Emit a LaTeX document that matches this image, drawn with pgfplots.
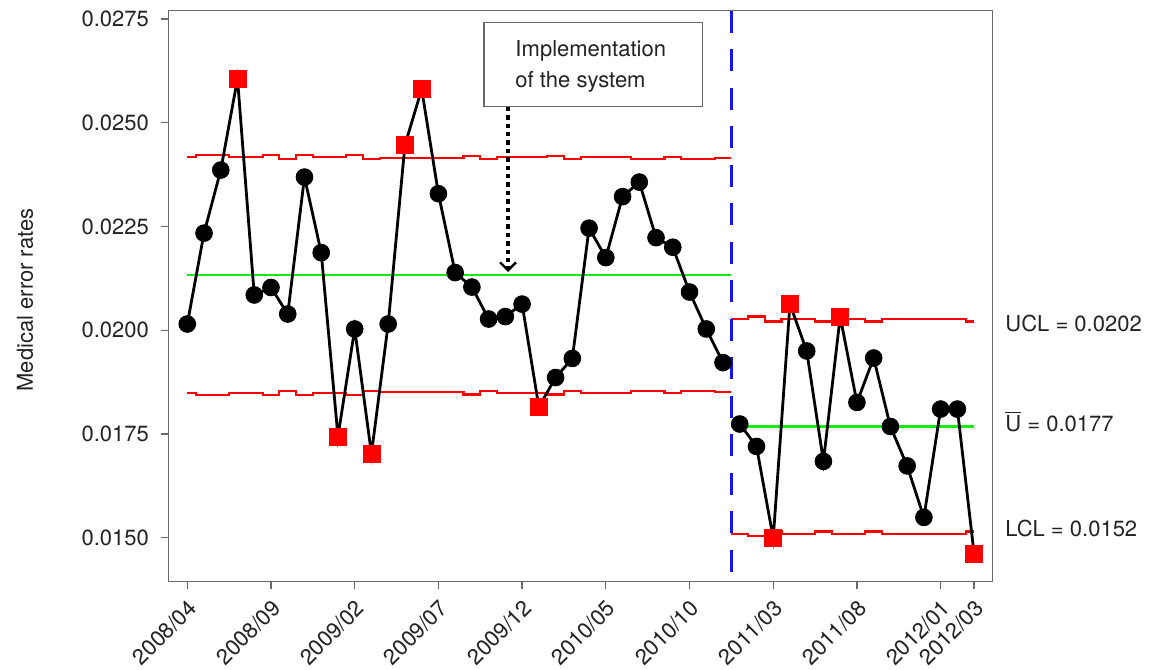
\documentclass[border=0pt]{standalone}
\usepackage{fontspec}
\setmainfont{TeX Gyre Heros}
\usepackage{pgfplots}
\pgfplotsset{compat=1.18}
\usetikzlibrary{arrows.meta}
\definecolor{uclred}{RGB}{255,0,0}
\definecolor{clgreen}{RGB}{20,235,20}
\definecolor{framegray}{RGB}{105,105,105}
\definecolor{txt}{RGB}{35,35,35}
\definecolor{sepblue}{RGB}{20,20,240}
\begin{document}
\fontsize{11}{13}\selectfont
\begin{tikzpicture}
\path[use as bounding box] (-84.15pt,-44.15pt) rectangle (492.35pt,290.85pt);
\begin{axis}[
  at={(0,0)}, anchor=south west,
  width=412.2pt, height=285.5pt, scale only axis,
  xmin=-1.135, xmax=48.11, ymin=0.01394, ymax=0.0277,
  axis line style={framegray, line width=0.65pt},
  tick style={framegray, line width=0.65pt},
  tick align=outside, major tick length=3.85pt,
  xtick pos=left, ytick pos=left,
  ytick={0.015,0.0175,0.02,0.0225,0.025,0.0275},
  yticklabels={0.0150,0.0175,0.0200,0.0225,0.0250,0.0275},
  scaled y ticks=false,
  xtick={0,5,10,15,20,25,30,35,40,45,47},
  xticklabels={2008/04,2008/09,2009/02,2009/07,2009/12,2010/05,2010/10,2011/03,2011/08,2012/01,2012/03},
  xticklabel style={rotate=45, anchor=north east, inner sep=0pt, xshift=-3.2pt, yshift=-2.8pt},
  yticklabel style={xshift=-2pt},
  ticklabel style={font=\fontsize{11}{13}\selectfont, text=txt},
  clip=false,
  ylabel={Medical error rates},
  ylabel style={at={(axis description cs:-0.1738,0.4933)}, anchor=center, font=\fontsize{11}{13}\selectfont, text=txt},
]
% control limits phase 1
\addplot[uclred, line width=1.1pt, const plot] coordinates {
(0,0.024169) (0.5,0.024224) (2.5,0.024169) (4.5,0.024224) (5.5,0.024121) (6.5,0.024224) (7.5,0.024169) (9.5,0.024224) (10.5,0.024121) (11.5,0.024152) (16.5,0.024208) (17.5,0.024121) (18.5,0.024169) (21.5,0.024208) (22.5,0.024121) (23.5,0.024169) (26.5,0.024121) (28.5,0.024169) (29.5,0.024121) (31.5,0.024152) (32.5,0.024152)};
\addplot[uclred, line width=1.1pt, const plot] coordinates {
(0,0.018491) (0.5,0.018436) (2.5,0.018491) (4.5,0.018436) (5.5,0.018539) (6.5,0.018436) (7.5,0.018491) (9.5,0.018436) (10.5,0.018539) (11.5,0.018508) (16.5,0.018452) (17.5,0.018539) (18.5,0.018491) (21.5,0.018452) (22.5,0.018539) (23.5,0.018491) (26.5,0.018539) (28.5,0.018491) (29.5,0.018539) (31.5,0.018508) (32.5,0.018508)};
\addplot[clgreen, line width=1.2pt] coordinates {(0,0.02133) (32.5,0.02133)};
% control limits phase 2
\addplot[uclred, line width=1.1pt, const plot] coordinates {
(32.5,0.020267) (33.5,0.020330) (34.5,0.020210) (35.5,0.020267) (37.5,0.020210) (38.5,0.020267) (40.5,0.020210) (41.5,0.020267) (46.5,0.020210) (47,0.020210)};
\addplot[uclred, line width=1.1pt, const plot] coordinates {
(32.5,0.015095) (33.5,0.015032) (34.5,0.015152) (35.5,0.015095) (37.5,0.015152) (38.5,0.015095) (40.5,0.015152) (41.5,0.015095) (46.5,0.015152) (47,0.015152)};
\addplot[clgreen, line width=1.2pt] coordinates {(32.5,0.017681) (47,0.017681)};
% separator
\addplot[sepblue, line width=1.4pt, dash pattern=on 11pt off 8.25pt] coordinates {(32.5,0.0277) (32.5,0.01394)};
% data lines
\addplot[black, line width=1.4pt] coordinates {
(0,0.02015) (1,0.02234) (2,0.02386) (3,0.02606) (4,0.02085) (5,0.02103) (6,0.02039) (7,0.02369) (8,0.02187) (9,0.01744) (10,0.02003) (11,0.01702) (12,0.02015) (13,0.02446) (14,0.02581) (15,0.02329) (16,0.02139) (17,0.02104) (18,0.02027) (19,0.02033) (20,0.02063) (21,0.01815) (22,0.01886) (23,0.01932) (24,0.02246) (25,0.02175) (26,0.02322) (27,0.02357) (28,0.02223) (29,0.02200) (30,0.02092) (31,0.02003) (32,0.01922)};
\addplot[black, line width=1.4pt] coordinates {
(33,0.01774) (34,0.01720) (35,0.01499) (36,0.02063) (37,0.01950) (38,0.01684) (39,0.02033) (40,0.01826) (41,0.01933) (42,0.01768) (43,0.01673) (44,0.01549) (45,0.01810) (46,0.01810) (47,0.01461)};
% in-control points
\addplot[only marks, mark=*, mark size=4.2pt, black] coordinates {
(0,0.02015) (1,0.02234) (2,0.02386) (4,0.02085) (5,0.02103) (6,0.02039) (7,0.02369) (8,0.02187) (10,0.02003) (12,0.02015) (15,0.02329) (16,0.02139) (17,0.02104) (18,0.02027) (19,0.02033) (20,0.02063) (22,0.01886) (23,0.01932) (24,0.02246) (25,0.02175) (26,0.02322) (27,0.02357) (28,0.02223) (29,0.02200) (30,0.02092) (31,0.02003) (32,0.01922)
(33,0.01774) (34,0.01720) (37,0.01950) (38,0.01684) (40,0.01826) (41,0.01933) (42,0.01768) (43,0.01673) (44,0.01549) (45,0.01810) (46,0.01810)};
% out-of-control points
\addplot[only marks, mark=square*, mark size=4.25pt, uclred] coordinates {
(3,0.02606) (9,0.01744) (11,0.01702) (13,0.02446) (14,0.02581) (21,0.01815) (35,0.01499) (36,0.02063) (39,0.02033) (47,0.01461)};
% annotation box and arrow
\draw[framegray, line width=0.65pt, fill=white] (axis cs:17.72,0.027410) rectangle (axis cs:30.79,0.025386);
\node[anchor=base west, inner sep=0pt, text=txt, font=\fontsize{11}{13}\selectfont] at (axis cs:19.58,0.026590) {Implementation};
\node[anchor=base west, inner sep=0pt, text=txt, font=\fontsize{11}{13}\selectfont] at (axis cs:19.58,0.025853) {of the system};
\draw[black, line width=1.7pt, dash pattern=on 2.2pt off 2pt, -{Straight Barb[length=4pt,width=8pt,line width=1.2pt]}] (axis cs:19.16,0.025386) -- (axis cs:19.16,0.021402);
% right labels
\node[anchor=base west, inner sep=0pt, text=txt, font=\fontsize{11}{13}\selectfont] at (axis cs:48.845,0.019964) {UCL = 0.0202};
\node[anchor=base west, inner sep=0pt, text=txt, font=\fontsize{11}{13}\selectfont] at (axis cs:48.845,0.017554) {$\overline{\hbox{U}}$ = 0.0177};
\node[anchor=base west, inner sep=0pt, text=txt, font=\fontsize{11}{13}\selectfont] at (axis cs:48.845,0.015024) {LCL = 0.0152};
\end{axis}
\end{tikzpicture}
\end{document}
